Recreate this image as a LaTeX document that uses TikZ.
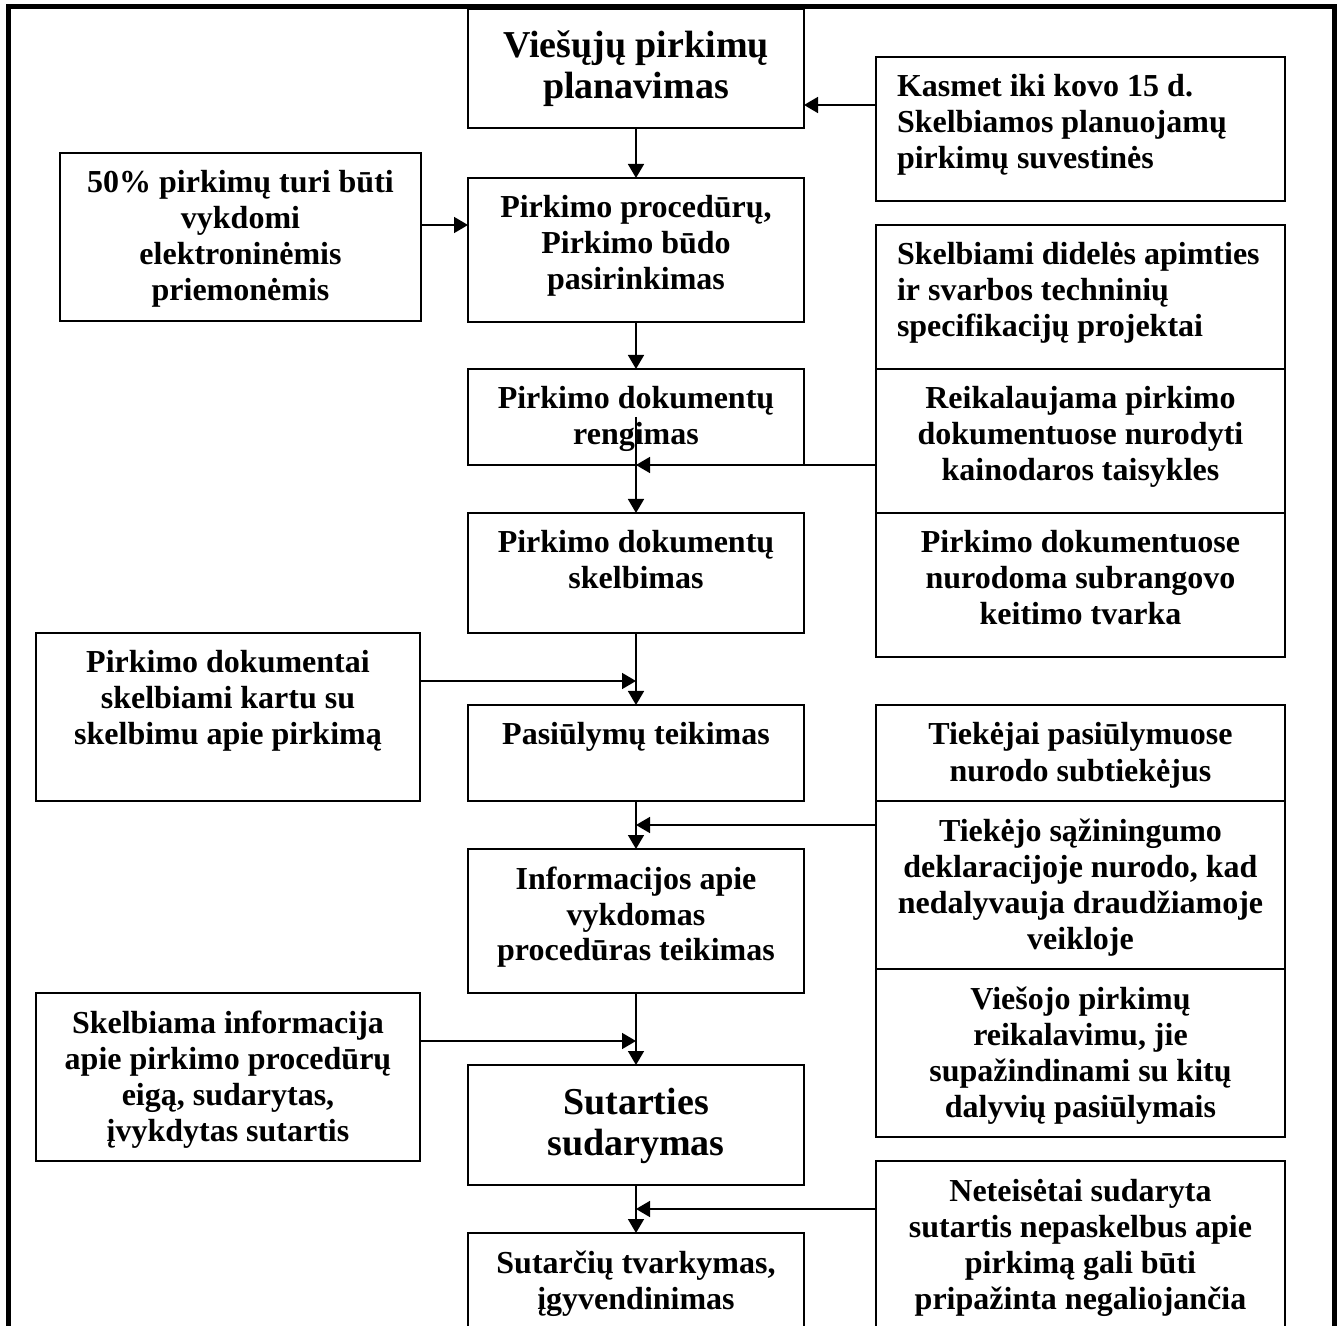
\documentclass[tikz,border=0pt]{standalone}
\usepackage{fontspec}
\setmainfont{Liberation Serif}
\usetikzlibrary{arrows.meta}
\newcommand{\bxc}[4]{\parbox[c][\dimexpr #1pt/2\relax][t]{\dimexpr #2pt/2\relax}{\centering\rule{0pt}{#3pt}#4}}
\newcommand{\bxl}[4]{\parbox[c][\dimexpr #1pt/2\relax][t]{\dimexpr #2pt/2\relax}{\raggedright\leftskip=10.5pt\rule{0pt}{#3pt}#4}}
\begin{document}
\begin{tikzpicture}[x=0.5pt,y=-0.5pt,
  box/.style={draw, line width=1pt, inner sep=0pt, outer sep=0pt, font=\bfseries\fontsize{16}{18}\selectfont},
  bigbox/.style={box, font=\bfseries\fontsize{19}{20.5}\selectfont},
  arr/.style={line width=0.8pt, -{Triangle[length=7pt,width=8pt]}}]
\useasboundingbox (0,0) rectangle (1340,1326);
\clip (0,0) rectangle (1340,1326);
% outer frame
\draw[line width=2.5pt, line join=miter] (8,1340) -- (8,7) -- (1334,7) -- (1334,1340);
% central column
\node[bigbox] (plan) at (636,68.5) {\bxc{119}{336}{24.5}{Viešųjų pirkimų\\planavimas}};
\node[box] (proc) at (636,250) {\bxc{144}{336}{20}{Pirkimo procedūrų,\\Pirkimo būdo\\pasirinkimas}};
\node[box] (reng) at (636,417) {\bxc{96}{336}{20}{Pirkimo dokumentų\\rengimas}};
\node[box] (dskel) at (636,573) {\bxc{120}{336}{20}{Pirkimo dokumentų\\skelbimas}};
\node[box] (pasi) at (636,753) {\bxc{96}{336}{20}{Pasiūlymų teikimas}};
\node[box] (info) at (636,921) {\bxc{144}{336}{20}{Informacijos apie\\vykdomas\\procedūras teikimas}};
\node[bigbox] (sutart) at (636,1125) {\bxc{120}{336}{24.5}{Sutarties\\sudarymas}};
\node[box] (tvark) at (636,1290) {\bxc{114}{336}{20}{Sutarčių tvarkymas,\\įgyvendinimas}};
% left column
\node[box] (fifty) at (240.5,237) {\bxc{168}{361}{20}{50\% pirkimų turi būti\\vykdomi\\elektroninėmis\\priemonėmis}};
\node[box] (kartu) at (228,717) {\bxc{168}{384}{20}{Pirkimo dokumentai\\skelbiami kartu su\\skelbimu apie pirkimą}};
\node[box] (skinfo) at (228,1077) {\bxc{168}{384}{20}{Skelbiama informacija\\apie pirkimo procedūrų\\eigą, sudarytas,\\įvykdytas sutartis}};
% right column
\node[box] (kasmet) at (1080.5,129) {\bxl{144}{409}{20}{Kasmet iki kovo 15 d.\\Skelbiamos planuojamų\\pirkimų suvestinės}};
\node[box] (skelb) at (1080.5,297) {\bxl{144}{409}{20}{Skelbiami didelės apimties\\ir svarbos techninių\\specifikacijų projektai}};
\node[box] (reik) at (1080.5,441) {\bxc{144}{409}{20}{Reikalaujama pirkimo\\dokumentuose nurodyti\\kainodaros taisykles}};
\node[box] (nurod) at (1080.5,585) {\bxc{144}{409}{20}{Pirkimo dokumentuose\\nurodoma subrangovo\\keitimo tvarka}};
\node[box] (tiek) at (1080.5,753) {\bxc{96}{409}{20}{Tiekėjai pasiūlymuose\\nurodo subtiekėjus}};
\node[box] (sazin) at (1080.5,885) {\bxc{168}{409}{20}{Tiekėjo sąžiningumo\\deklaracijoje nurodo, kad\\nedalyvauja draudžiamoje\\veikloje}};
\node[box] (viesojo) at (1080.5,1053) {\bxc{168}{409}{20}{Viešojo pirkimų\\reikalavimu, jie\\supažindinami su kitų\\dalyvių pasiūlymais}};
\node[box] (netei) at (1080.5,1254) {\bxc{186}{409}{20}{Neteisėtai sudaryta\\sutartis nepaskelbus apie\\pirkimą gali būti\\pripažinta negaliojančia}};
% vertical connectors
\draw[arr] (plan.south) -- (proc.north);
\draw[arr] (proc.south) -- (reng.north);
\draw[arr] (reng.center) -- (dskel.north);
\draw[arr] (dskel.south) -- (pasi.north);
\draw[arr] (pasi.south) -- (info.north);
\draw[arr] (info.south) -- (sutart.north);
\draw[arr] (sutart.south) -- (tvark.north);
% side connectors
\coordinate (k1) at ([yshift=12pt]kasmet.west);
\draw[arr] (k1) -- (k1 -| plan.east);
\coordinate (f1) at ([yshift=6pt]fifty.east);
\draw[arr] (f1) -- (f1 -| proc.west);
\draw[arr] (reik.west |- reng.south) -- (reng.south);
\coordinate (k2) at ([yshift=18pt]kartu.east);
\draw[arr] (k2) -- (k2 -| pasi.north);
\coordinate (s1) at ([yshift=-12pt]sazin.north west);
\draw[arr] (s1) -- (s1 -| info.north);
\coordinate (s2) at ([yshift=18pt]skinfo.east);
\draw[arr] (s2) -- (s2 -| sutart.north);
\coordinate (n1) at ([yshift=-24pt]netei.north west);
\draw[arr] (n1) -- (n1 -| tvark.north);
\end{tikzpicture}
\end{document}
